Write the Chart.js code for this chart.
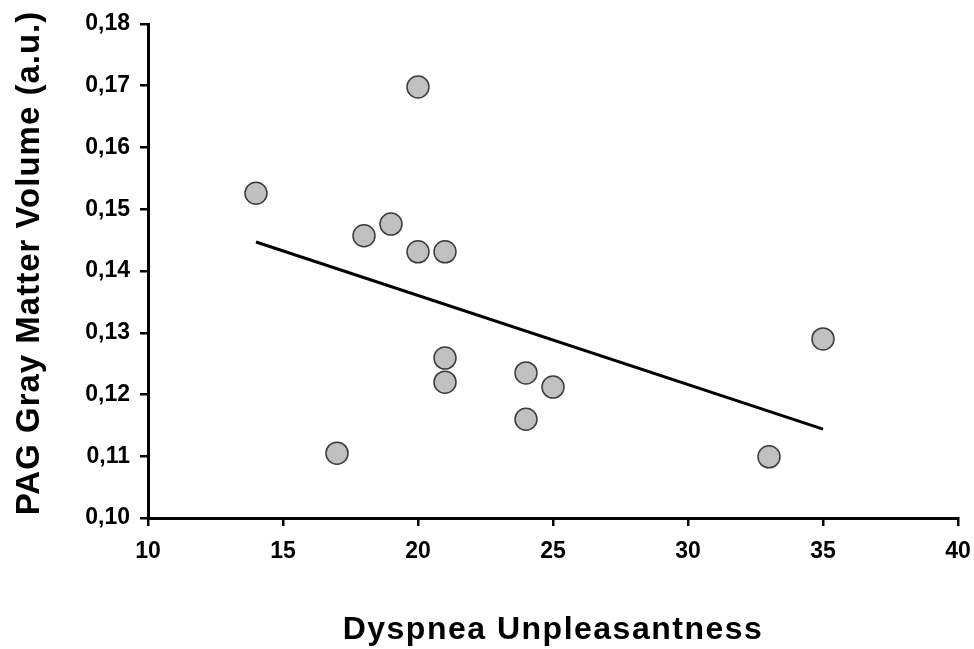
<!DOCTYPE html>
<html>
<head>
<meta charset="utf-8">
<script src="https://cdn.jsdelivr.net/npm/chart.js@4/dist/chart.umd.min.js"></script>
<style>
html,body{margin:0;padding:0;background:#fff;}
#wrap{width:974px;height:649px;position:relative;}
</style>
</head>
<body>
<div id="wrap"><canvas id="c" width="974" height="649"></canvas></div>
<script>
const dyspnea = [14, 20, 17, 18, 19, 20, 21, 21, 21, 24, 24, 25, 33, 35];
const pagVolume = [0.1526, 0.1698, 0.1105, 0.1457, 0.1476, 0.1431, 0.1431, 0.1259, 0.1220, 0.1235, 0.1160, 0.1212, 0.1099, 0.1290];
const fitX = [14, 35];
const fitY = [0.1447, 0.1144];
const yTickLabels = ['0,10','0,11','0,12','0,13','0,14','0,15','0,16','0,17','0,18'];
const xTickLabels = ['10','15','20','25','30','35','40'];

const font = 'Liberation Sans, Arial, sans-serif';

const titleSpacing = {
  id: 'titleSpacing',
  beforeDraw(chart) {
    const cfg = { x: { sp: '1.5px', dy: 2 }, y: { sp: '1px', dy: -8 } };
    Object.keys(cfg).forEach(id => {
      const s = chart.scales[id];
      if (s && !s._spacedTitle) {
        const orig = s.drawTitle;
        s.drawTitle = function () {
          const ctx = this.ctx;
          ctx.save();
          ctx.letterSpacing = cfg[id].sp;
          ctx.translate(0, cfg[id].dy);
          orig.apply(this, arguments);
          ctx.restore();
        };
        s._spacedTitle = true;
      }
    });
  }
};

new Chart(document.getElementById('c'), {
  type: 'scatter',
  plugins: [titleSpacing],
  data: {
    datasets: [
      {
        type: 'scatter',
        data: dyspnea.map((x, i) => ({x: x, y: pagVolume[i]})),
        pointRadius: 11,
        pointHoverRadius: 11,
        backgroundColor: '#c0c0c0',
        borderColor: '#3c3c3c',
        borderWidth: 1.5,
        order: 1
      },
      {
        type: 'line',
        data: fitX.map((x, i) => ({x: x, y: fitY[i]})),
        borderColor: '#000',
        borderWidth: 3,
        pointRadius: 0,
        fill: false,
        order: 2
      }
    ]
  },
  options: {
    responsive: false,
    animation: false,
    events: [],
    layout: { padding: { top: 24, right: 16, left: 0, bottom: 0 } },
    plugins: { legend: { display: false }, tooltip: { enabled: false } },
    scales: {
      x: {
        type: 'linear',
        min: 10, max: 40,
        afterFit: s => { s.height = 131; s.paddingRight = 0; s.paddingLeft = 0; },
        ticks: {
          stepSize: 5,
          color: '#000',
          padding: 12,
          font: { family: font, size: 23, weight: 'bold' },
          callback: (v, i) => xTickLabels[i]
        },
        grid: { drawOnChartArea: false, drawTicks: true, tickLength: 8, color: '#000', lineWidth: 2.5 },
        border: { display: true, color: '#000', width: 3 },
        title: {
          display: true,
          text: 'Dyspnea Unpleasantness',
          color: '#000',
          font: { family: font, size: 32, weight: 'bold' },
          padding: { top: 4, bottom: 2 }
        }
      },
      y: {
        type: 'linear',
        min: 0.10, max: 0.18,
        afterFit: s => { s.width = 148; },
        ticks: {
          stepSize: 0.01,
          color: '#000',
          padding: 10,
          font: { family: font, size: 23, weight: 'bold' },
          callback: (v, i) => yTickLabels[i]
        },
        grid: { drawOnChartArea: false, drawTicks: true, tickLength: 8, color: '#000', lineWidth: 2.5 },
        border: { display: true, color: '#000', width: 3 },
        title: {
          display: true,
          text: 'PAG Gray Matter Volume (a.u.)',
          color: '#000',
          font: { family: font, size: 33, weight: 'bold' },
          padding: { top: 10, bottom: 4 }
        }
      }
    }
  }
});
</script>
</body>
</html>
